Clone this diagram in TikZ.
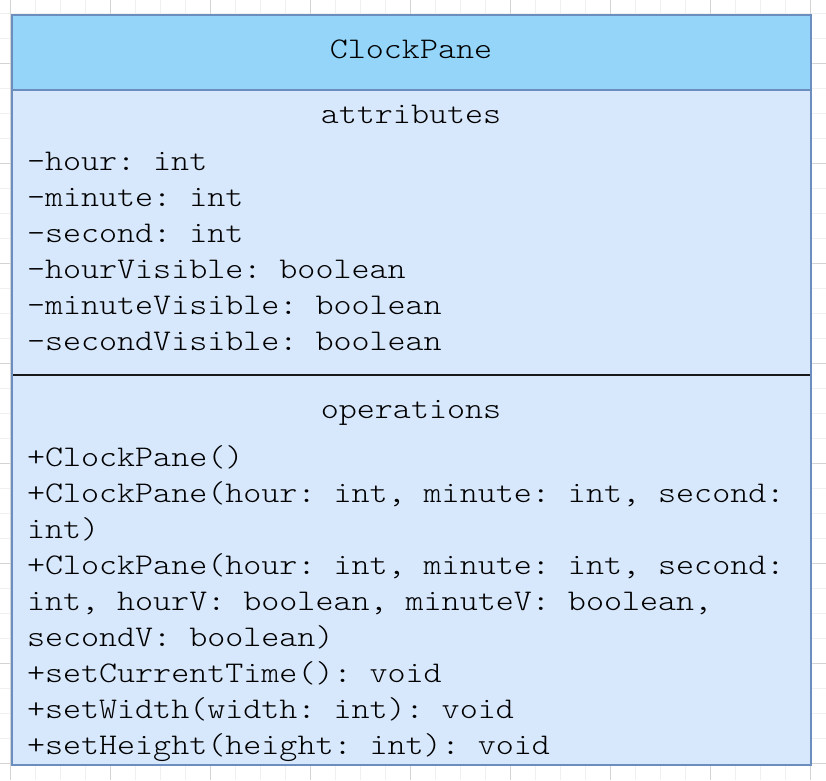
\documentclass[tikz,border=0pt]{standalone}
\usepackage{fontspec}
\setmonofont{lmmonolt10-regular.otf}[FakeStretch=1.145]
\definecolor{gridminor}{HTML}{F0F0F0}
\definecolor{gridmajor}{HTML}{D4D4D4}
\definecolor{headfill}{RGB}{148,213,249}
\definecolor{bodyfill}{RGB}{216,232,252}
\definecolor{umlborder}{HTML}{6C8EBF}
\begin{document}
\begin{tikzpicture}[x=1pt,y=-1pt,
    umltext/.style={inner sep=0pt,outer sep=0pt,font=\ttfamily\fontsize{30}{36}\selectfont,text=black},
    member/.style={umltext,anchor=base west},
    heading/.style={umltext,anchor=base}]
  % canvas and background grid
  \fill[white] (0,0) rectangle (826,780);
  \useasboundingbox (0,0) rectangle (826,780);
  \foreach \gx in {10,35,...,826} \draw[gridminor,line width=1pt] (\gx,0) -- (\gx,780);
  \foreach \gy in {13,38,...,780} \draw[gridminor,line width=1pt] (0,\gy) -- (826,\gy);
  \foreach \gx in {10,110,...,826} \draw[gridmajor,line width=1pt] (\gx,0) -- (\gx,780);
  \foreach \gy in {63,163,...,780} \draw[gridmajor,line width=1pt] (0,\gy) -- (826,\gy);

  % class box
  \coordinate (boxNW) at (12,15);
  \coordinate (boxSE) at (811,765);
  \fill[bodyfill] (boxNW) rectangle (boxSE);
  \fill[headfill] (12,15) rectangle (811,90);
  \draw[umlborder,line width=1.5pt] (12,90) -- (811,90);
  \draw[black!90,line width=2pt] (12,375) -- (811,375);
  \draw[umlborder,line width=2.2pt] (boxNW) rectangle (boxSE);

  % class name and section headings
  \node[heading] (name) at (411,58) {ClockPane};
  \node[heading] (attrhead) at (411,123) {attributes};
  \node[heading] (ophead) at (411,418) {operations};

  % attributes
  \foreach \t [count=\i from 0] in {-hour: int,-minute: int,-second: int,
      -hourVisible: boolean,-minuteVisible: boolean,-secondVisible: boolean}
    \node[member] (attr\i) at (27,170+36*\i) {\t};

  % operations
  \node[member] (op0) at (27,466) {+ClockPane()};
  \node[member] (op1) at (27,502) {+ClockPane(hour: int, minute: int, second:};
  \node[member] (op2) at (27,538) {int)};
  \node[member] (op3) at (27,574) {+ClockPane(hour: int, minute: int, second:};
  \node[member] (op4) at (27,610) {int, hourV: boolean, minuteV: boolean,};
  \node[member] (op5) at (27,646) {secondV: boolean)};
  \node[member] (op6) at (27,682) {+setCurrentTime(): void};
  \node[member] (op7) at (27,718) {+setWidth(width: int): void};
  \node[member] (op8) at (27,754) {+setHeight(height: int): void};
\end{tikzpicture}
\end{document}
